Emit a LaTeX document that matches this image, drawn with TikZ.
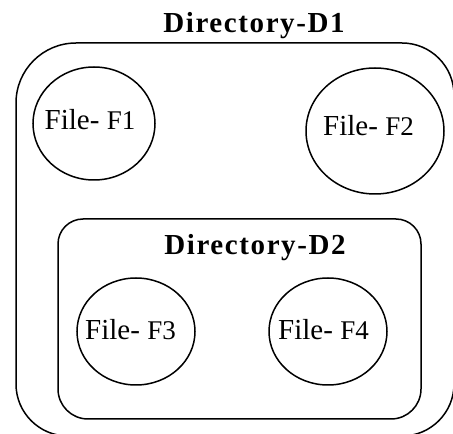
\documentclass[tikz,border=0pt]{standalone}
\usepackage{fontspec}
\setmainfont{Liberation Serif}
\newfontfamily\titlefont[LetterSpace=5.5]{Liberation Serif}
\usetikzlibrary{shapes.geometric}
\tikzset{
  box/.style={line width=1.5pt},
  filecircle/.style={draw, ellipse, line width=1.5pt, inner sep=0pt},
  filetext/.style={anchor=base, inner sep=0pt, font=\fontsize{29}{30}\selectfont},
  dirtitle/.style={anchor=base, inner sep=0pt, font=\titlefont\fontsize{29}{30}\selectfont\bfseries}
}
\begin{document}
\begin{tikzpicture}[x=1pt,y=1pt]
\useasboundingbox (0,0) rectangle (453,434);
\clip (0,0) rectangle (453,434);
\fill[white] (0,0) rectangle (453,434);
% outer directory D1
\draw[box] (16,50) -- (16,331) arc[start angle=180,end angle=90,radius=60]
  -- (402,391) arc[start angle=90,end angle=0,radius=52]
  -- (454,50) arc[start angle=0,end angle=-90,radius=52]
  -- (68,-2) arc[start angle=270,end angle=180,radius=52] -- cycle;
% inner directory D2
\draw[box] (58,45) -- (58,190) arc[start angle=180,end angle=90,radius=25]
  -- (396,215) arc[start angle=90,end angle=0,radius=25]
  -- (421,45) arc[start angle=0,end angle=-90,radius=30]
  -- (88,15) arc[start angle=270,end angle=180,radius=30] -- cycle;
% titles
\node[dirtitle] (d1) at (254,401.7) {Directory-D1};
\node[dirtitle] (d2) at (255,179) {Directory-D2};
% files
\node[filecircle, minimum width=122pt, minimum height=113pt] (c1) at (94,310.5) {};
\node[filecircle, minimum width=138pt, minimum height=126pt] (c2) at (375,303) {};
\node[filecircle, minimum width=118pt, minimum height=107pt] (c3) at (136,102.5) {};
\node[filecircle, minimum width=118pt, minimum height=107pt] (c4) at (328,102.5) {};
\node[filetext] (t1) at (90,304) {File- {\fontsize{27}{28}\selectfont F1}};
\node[filetext] (t2) at (368.5,298) {File- {\fontsize{27}{28}\selectfont F2}};
\node[filetext] (t3) at (130.5,94) {File- {\fontsize{27}{28}\selectfont F3}};
\node[filetext] (t4) at (323.5,94) {File- {\fontsize{27}{28}\selectfont F4}};
\end{tikzpicture}
\end{document}
